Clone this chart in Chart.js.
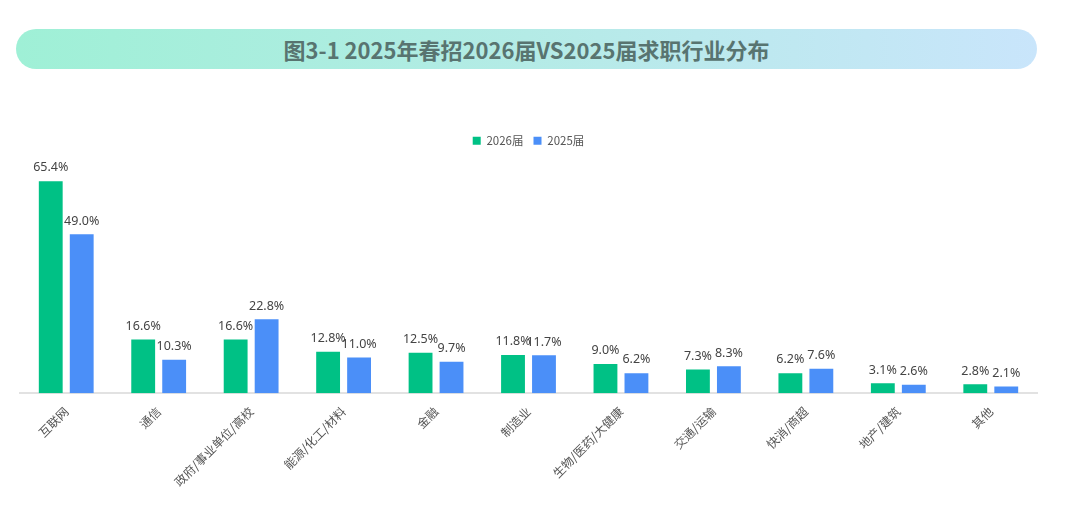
<!DOCTYPE html>
<html>
<head>
<meta charset="utf-8">
<script src="https://cdn.jsdelivr.net/npm/chart.js@4"></script>
<style>
  body { margin: 0; background: #fff; width: 1080px; height: 506px; overflow: hidden; position: relative; font-family: "Noto Sans CJK SC", "Noto Sans", sans-serif; }
  .title {
    position: absolute; left: 16px; top: 29px; width: 1021px; height: 40px;
    border-radius: 20px;
    background: linear-gradient(90deg, #9ff0d6 0%, #b4ebe6 50%, #c9e5fb 100%);
    color: #587470; font-weight: bold; font-size: 22px;
    display: flex; align-items: center; justify-content: center;
  }
  .wrap { position: absolute; left: 0; top: 120px; width: 1080px; height: 386px; }
</style>
</head>
<body>
<div class="title">图3-1 2025年春招2026届VS2025届求职行业分布</div>
<div class="wrap"><canvas id="myChart"></canvas></div>
<script>
const categories = ['互联网', '通信', '政府/事业单位/高校', '能源/化工/材料', '金融', '制造业', '生物/医药/大健康', '交通/运输', '快消/商超', '地产/建筑', '其他'];
const values2026 = [65.4, 16.6, 16.6, 12.8, 12.5, 11.8, 9.0, 7.3, 6.2, 3.1, 2.8];
const values2025 = [49.0, 10.3, 22.8, 11.0, 9.7, 11.7, 6.2, 8.3, 7.6, 2.6, 2.1];

const ctx = document.getElementById('myChart').getContext('2d');

// draws the percent text above every bar
const valueLabels = {
    id: 'valueLabels',
    afterDatasetsDraw(chart) {
        const c = chart.ctx;
        c.save();
        c.font = '12.5px "Noto Sans", sans-serif';
        c.fillStyle = '#444';
        c.textAlign = 'center';
        c.textBaseline = 'bottom';
        chart.data.datasets.forEach((ds, i) => {
            chart.getDatasetMeta(i).data.forEach((bar, j) => {
                c.fillText(ds.data[j].toFixed(1) + '%', bar.x, bar.y - 7);
            });
        });
        c.restore();
    }
};

new Chart(ctx, {
    type: 'bar',
    data: {
        labels: categories,
        datasets: [{
            label: '2026届',
            data: values2026,
            backgroundColor: '#00c185',
            categoryPercentage: 0.67,
            barPercentage: 0.77
        }, {
            label: '2025届',
            data: values2025,
            backgroundColor: '#4b8ff8',
            categoryPercentage: 0.67,
            barPercentage: 0.77
        }]
    },
    options: {
        responsive: true,
        maintainAspectRatio: false,
        animation: false,
        layout: { padding: { left: 20, right: 43, top: 5, bottom: 14 } },
        plugins: {
            legend: {
                labels: {
                    boxWidth: 8,
                    boxHeight: 8,
                    padding: 10,
                    color: '#555',
                    font: { size: 11.5, family: '"Noto Sans CJK SC", "Noto Sans", sans-serif' }
                }
            },
            tooltip: { enabled: false }
        },
        scales: {
            y: {
                display: false,
                beginAtZero: true,
                max: 73
            },
            x: {
                grid: { display: false },
                border: { color: '#e2e2e2', width: 2 },
                ticks: {
                    color: '#555',
                    maxRotation: 45,
                    minRotation: 45,
                    font: { size: 12, family: '"Noto Sans CJK SC", "Noto Sans", sans-serif' }
                }
            }
        }
    },
    plugins: [valueLabels]
});
</script>
</body>
</html>
